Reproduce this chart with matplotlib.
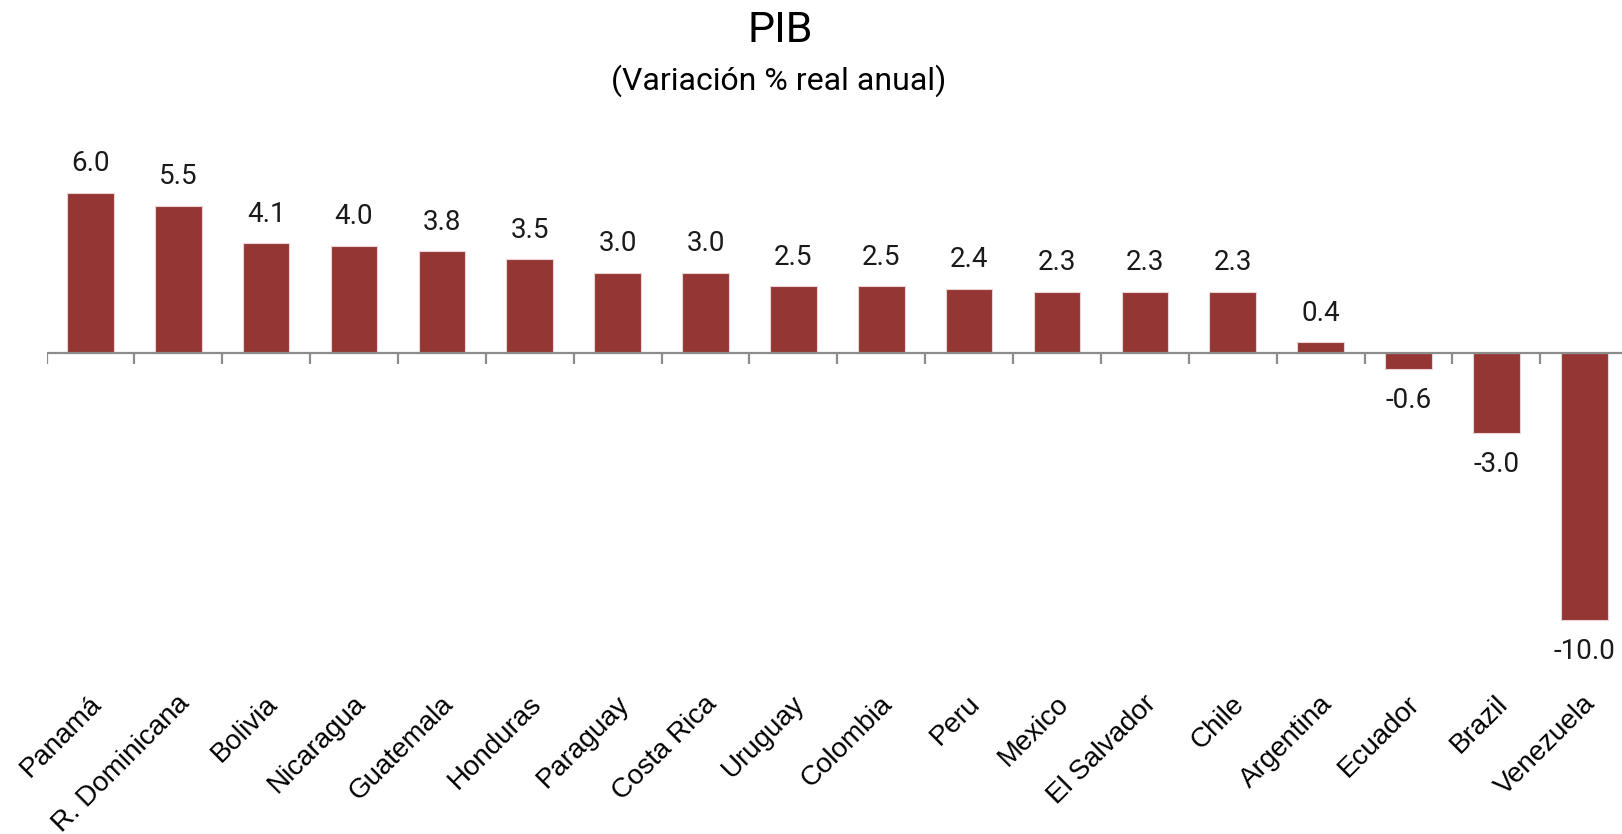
import matplotlib
matplotlib.use("Agg")
import matplotlib.pyplot as plt
from matplotlib import font_manager as fm

countries = ["Panamá", "R. Dominicana", "Bolivia", "Nicaragua", "Guatemala", "Honduras",
             "Paraguay", "Costa Rica", "Uruguay", "Colombia", "Peru", "Mexico",
             "El Salvador", "Chile", "Argentina", "Ecuador", "Brazil", "Venezuela"]
values = [6.0, 5.5, 4.1, 4.0, 3.8, 3.5, 3.0, 3.0, 2.5, 2.5, 2.4, 2.3, 2.3, 2.3, 0.4, -0.6, -3.0, -10.0]
value_labels = ["6.0", "5.5", "4.1", "4.0", "3.8", "3.5", "3.0", "3.0", "2.5", "2.5", "2.4", "2.3",
                "2.3", "2.3", "0.4", "-0.6", "-3.0", "-10.0"]
title = "PIB"
subtitle = "(Variación % real anual)"

names = {f.name for f in fm.fontManager.ttflist}
narrow = ["Liberation Sans Narrow", "DejaVu Sans"] if "Liberation Sans Narrow" in names else ["Roboto", "DejaVu Sans"]
plain = ["Liberation Sans", "DejaVu Sans"]

fig = plt.figure(figsize=(16.22, 8.34), dpi=100)
ax = fig.add_axes([46.5 / 1622, (834 - 673.4) / 834, 1 - 46.5 / 1622, 507.4 / 834])

x = list(range(len(countries)))
bar_color = "#943634"
ax.bar(x, values, width=0.53, color=bar_color, edgecolor="#ecd2d2", linewidth=0.8, zorder=2)

ax.set_xlim(-0.5, 17.43)
ax.set_ylim(-12, 7)

for s in ["top", "right", "left", "bottom"]:
    ax.spines[s].set_visible(False)
ax.set_yticks([])
ax.set_xticks([])

# zero axis line with boundary ticks
ax.axhline(0, color="#8c8c8c", lw=1.6, zorder=3)
tick_len = 0.4
for b in [i - 0.5 for i in range(len(countries))]:
    ax.plot([b, b], [0, -tick_len], color="#8c8c8c", lw=1.6, zorder=3, solid_capstyle="butt")

for xi, v, lab in zip(x, values, value_labels):
    off = 21 if v >= 0 else -23
    ax.annotate(lab, (xi, v), xytext=(0, off), textcoords="offset points",
                ha="center", va="center", fontsize=20, family=narrow, color="#1a1a1a")

trans = ax.get_xaxis_transform()
for xi, name in zip(x, countries):
    ax.text(xi - 0.02, -0.034, name, transform=trans, rotation=45, rotation_mode="anchor",
            ha="right", va="top", fontsize=20, family=plain, color="#000000")

fig.text(0.481, 1 - 31 / 834, title, ha="center", va="center", fontsize=31, family=narrow)
fig.text(0.480, 1 - 81 / 834, subtitle, ha="center", va="center", fontsize=23, family=narrow)

fig.savefig("out.png", dpi=100)
